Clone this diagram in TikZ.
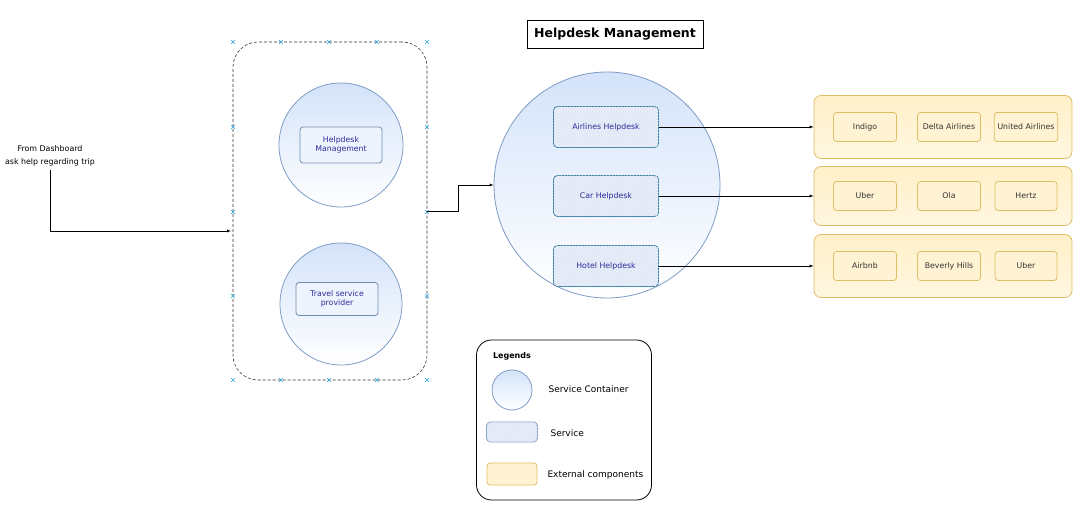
\documentclass[tikz,border=0pt]{standalone}
\usepackage{fontspec}
\setmainfont{DejaVu Sans}
\usetikzlibrary{arrows,patterns}
\definecolor{contfill}{HTML}{D4E3FA}
\definecolor{contline}{HTML}{7E9CC6}
\definecolor{svcline}{HTML}{3A7FA3}
\definecolor{svctext}{HTML}{2B2B9C}
\definecolor{extfill}{HTML}{FFF0C8}
\definecolor{extline}{HTML}{DDBE66}
\definecolor{handleblue}{HTML}{2EA6DE}
\tikzset{
  container/.style={
    % The shape:
    circle,inner sep=0pt,
    % The border:
    thick,draw=contline,
    % The filling:
    top color=contfill, % light blue at the top...
    bottom color=white % and white at the bottom
  }}
\tikzset{
	inbox/.style={
		% The shape:
		rectangle,rounded corners=3pt,
		% The rest
		thick,draw=contline!90!black,fill=contfill!40,
		text=svctext,align=center,font=\fontsize{7.8}{9.5}\selectfont}}
\tikzset{
	service/.style={
		% The shape:
		rectangle,rounded corners=4pt,
		minimum width=105pt,minimum height=41pt,
		% The rest
		thick,draw=svcline,fill=contfill!50,
		postaction={pattern=north east lines,pattern color=contline!30},
		text=svctext,font=\fontsize{7.8}{9.5}\selectfont}}
\tikzset{
	extgroup/.style={
		% The shape:
		rectangle,rounded corners=7pt,minimum width=258pt,
		% The rest
		thick,draw=extline,top color=extfill,bottom color=extfill!55}}
\tikzset{
	extbox/.style={
		% The shape:
		rectangle,rounded corners=3pt,minimum height=29pt,
		% The rest
		thick,draw=extline,fill=extfill!80,
		text=black!80,font=\fontsize{7.8}{9.5}\selectfont}}
\tikzset{
	handle/.style={handleblue,line width=0.6pt}}

\begin{document}
\begin{tikzpicture}[x=1pt,y=-1pt,>=latex]
	\useasboundingbox (0,0) rectangle (1082,518);
	% Entry from the dashboard
	\node[align=center,font=\fontsize{7.9}{13}\selectfont] (dash) at (50,156) {From Dashboard\\ask help regarding trip};
	\coordinate (cin) at (231,231);
	\draw[->] (dash.south) |- (cin);
	% Left container
	\node[rectangle,rounded corners=25pt,minimum width=194pt,minimum height=338pt,draw=black!80,line width=0.6pt,densely dashed] (cont) at (330,211) {};
	\foreach \x in {233,281,329,377,427}{
		\draw[handle] (\x,42) +(-2,-2) -- +(2,2) +(-2,2) -- +(2,-2);
		\draw[handle] (\x,380) +(-2,-2) -- +(2,2) +(-2,2) -- +(2,-2);}
	\foreach \y in {127,212,296}{
		\draw[handle] (233,\y) +(-2,-2) -- +(2,2) +(-2,2) -- +(2,-2);
		\draw[handle] (427,\y) +(-2,-2) -- +(2,2) +(-2,2) -- +(2,-2);}
	\node[container,minimum size=124pt] (hm) at (341,145) {};
	\node[inbox,minimum width=82pt,minimum height=36pt] (hmbox) at (341,145) {Helpdesk\\Management};
	\node[container,minimum size=122pt] (tsp) at (341,304) {};
	\node[inbox,minimum width=82pt,minimum height=33pt] (tspbox) at (337,299) {Travel service\\provider};
	% Helpdesk management
	\node[rectangle,draw=black,fill=white,minimum width=176pt,minimum height=28pt,font=\bfseries\fontsize{12.5}{14}\selectfont] (title) at (615,34) {Helpdesk Management};
	\node[container,minimum size=226pt] (hub) at (607,185) {};
	\node[service] (air) at (606,127) {Airlines Helpdesk};
	\node[service] (car) at (606,196) {Car Helpdesk};
	\node[service] (hotel) at (606,266) {Hotel Helpdesk};
	% External components
	\node[extgroup,minimum height=63pt] (airext) at (943,127) {};
	\node[extgroup,minimum height=59pt] (carext) at (943,196) {};
	\node[extgroup,minimum height=63pt] (hotelext) at (943,266) {};
	\node[extbox,minimum width=63pt] (indigo) at (865,127) {Indigo};
	\node[extbox,minimum width=63pt] (delta) at (949,127) {Delta Airlines};
	\node[extbox,minimum width=62pt] (united) at (1026,127) {United Airlines};
	\node[extbox,minimum width=63pt] (uber) at (865,196) {Uber};
	\node[extbox,minimum width=63pt] (ola) at (949,196) {Ola};
	\node[extbox,minimum width=62pt] (hertz) at (1026,196) {Hertz};
	\node[extbox,minimum width=63pt] (airbnb) at (865,266) {Airbnb};
	\node[extbox,minimum width=63pt] (beverly) at (949,266) {Beverly Hills};
	\node[extbox,minimum width=62pt] (uber2) at (1026,266) {Uber};
	% Lines out of cont
	\draw[->] (cont.east) -- ++(31,0) |- (hub.west);
	% Lines out of the services
	\draw[->] (air) -- (airext);
	\draw[->] (car) -- (carext);
	\draw[->] (hotel) -- (hotelext);
	% Legends
	\node[rectangle,rounded corners=15pt,minimum width=175pt,minimum height=160pt,draw=black,thick] (legend) at (564,420) {};
	\node[font=\bfseries\fontsize{8}{9}\selectfont] (legtitle) at (512,356) {Legends};
	\node[container,minimum size=40pt] (legcont) at (512,390) {};
	\node[font=\fontsize{9}{10}\selectfont,anchor=west] (legconttext) at (545,389) {Service Container};
	\node[service,minimum width=51pt,minimum height=20pt,draw=contline] (legsvc) at (512,432) {};
	\node[font=\fontsize{9}{10}\selectfont,anchor=west] (legsvctext) at (547,433) {Service};
	\node[extbox,minimum width=50pt,minimum height=22pt] (legext) at (512,474) {};
	\node[font=\fontsize{9}{10}\selectfont,anchor=west] (legexttext) at (544,475) {External components};
\end{tikzpicture}
\end{document}
